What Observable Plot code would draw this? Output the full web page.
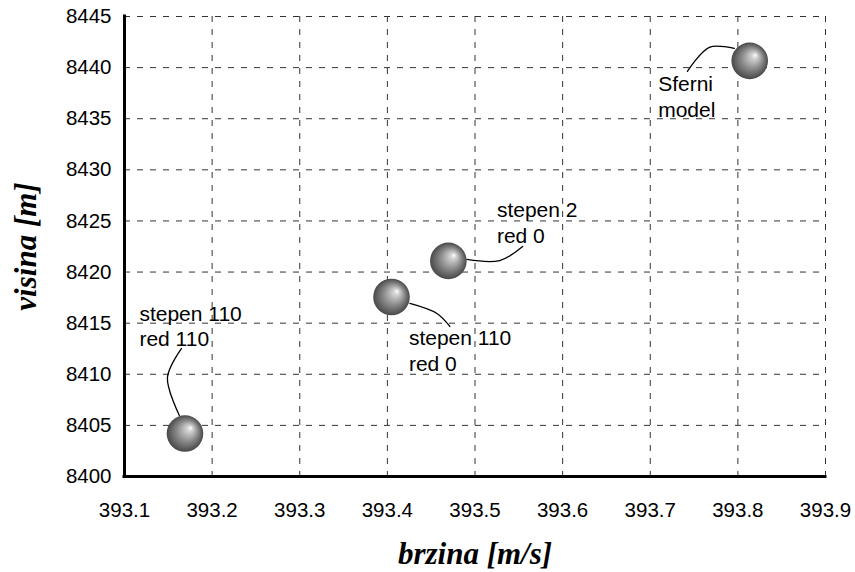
<!DOCTYPE html>
<html><head><meta charset="utf-8">
<script src="https://cdn.jsdelivr.net/npm/d3@7"></script>
<script src="https://cdn.jsdelivr.net/npm/@observablehq/plot@0.6"></script>
<style>body{margin:0;background:#fff} #chart svg{display:block}</style>
</head><body><div id="chart"></div>
<script>
const speed = [393.169, 393.4047, 393.4696, 393.8135];
const heightV = [8404.2, 8417.56, 8421.09, 8440.66];
const labels = ["stepen 110\nred 110", "stepen 110\nred 0", "stepen 2\nred 0", "Sferni\nmodel"];
const labelX = [393.117, 393.4246, 393.525, 393.709];
const labelY = [8414.77, 8412.38, 8424.9, 8437.23];
const leaderX = [[393.1626, 393.149, 393.1649], [393.4257, 393.4565, 393.4713], [393.4907, 393.5282, 393.5544], [393.7959, 393.7674, 393.7424]];
const leaderY = [[8405.97, 8409.69, 8412.52], [8416.93, 8415.95, 8414.68], [8421.23, 8421.13, 8422.50], [8441.88, 8441.98, 8439.63]];
const xTicks = [393.1, 393.2, 393.3, 393.4, 393.5, 393.6, 393.7, 393.8, 393.9];
const yTicks = [8400, 8405, 8410, 8415, 8420, 8425, 8430, 8435, 8440, 8445];

const points = speed.map((s, i) => ({x: s, y: heightV[i]}));
const labelRows = labels.map((t, i) => ({x: labelX[i], y: labelY[i], t}));
const leaderRows = leaderX.flatMap((xs, i) => xs.map((x, j) => ({id: i, x, y: leaderY[i][j]})));

const sans = "'Liberation Sans', Arial, Helvetica, sans-serif";
const serif = "'Liberation Serif', 'Times New Roman', serif";

const svg = Plot.plot({
  width: 855,
  height: 572,
  marginLeft: 124,
  marginRight: 30,
  marginTop: 16,
  marginBottom: 96,
  style: {fontFamily: sans, fontSize: "20px", color: "#000", background: "#fff"},
  x: {domain: [393.1, 393.9]},
  y: {domain: [8400, 8445]},
  marks: [
    Plot.gridX(xTicks, {stroke: "#333", strokeOpacity: 1, strokeWidth: 1, strokeDasharray: "6,7"}),
    Plot.gridY(yTicks, {stroke: "#333", strokeOpacity: 1, strokeWidth: 1, strokeDasharray: "6,7"}),
    Plot.axisX({ticks: xTicks, tickSize: 0, tickPadding: 26, tickFormat: d3.format(".1f"), fontSize: 20.5, label: null}),
    Plot.axisY({ticks: yTicks, tickSize: 0, tickPadding: 13, tickFormat: d3.format("d"), fontSize: 20.5, label: null}),
    Plot.ruleX([393.1], {stroke: "#000", strokeWidth: 3, strokeLinecap: "square"}),
    Plot.ruleY([8400], {stroke: "#000", strokeWidth: 3, strokeLinecap: "square"}),
    Plot.line(leaderRows, {x: "x", y: "y", z: "id", curve: "catmull-rom", stroke: "#000", strokeWidth: 1.3}),
    Plot.dot(points, {x: "x", y: "y", r: 18.3, fill: "url(#sphereGrad)", stroke: "none"}),
    Plot.text(labelRows, {x: "x", y: "y", text: "t", textAnchor: "start", lineAnchor: "middle", lineHeight: 1.2, fontSize: 21, fill: "#000"}),
    Plot.text(["brzina [m/s]"], {text: d => d, frameAnchor: "bottom", lineAnchor: "middle", textAnchor: "middle", dy: 78, fontFamily: serif, fontWeight: "bold", fontStyle: "italic", fontSize: 31, fill: "#000"}),
    Plot.text(["visina [m]"], {text: d => d, frameAnchor: "left", lineAnchor: "middle", textAnchor: "middle", dx: -98, rotate: -90, fontFamily: serif, fontWeight: "bold", fontStyle: "italic", fontSize: 31, fill: "#000"})
  ]
});

const defs = d3.select(svg).insert("defs", ":first-child");
const g = defs.append("radialGradient").attr("id", "sphereGrad")
  .attr("cx", "50%").attr("cy", "50%").attr("r", "50%").attr("fx", "66%").attr("fy", "34%");
g.append("stop").attr("offset", "0%").attr("stop-color", "#ffffff");
g.append("stop").attr("offset", "15%").attr("stop-color", "#d4d4d4");
g.append("stop").attr("offset", "55%").attr("stop-color", "#8e8e8e");
g.append("stop").attr("offset", "100%").attr("stop-color", "#484848");

document.getElementById("chart").appendChild(svg);
</script>
</body></html>
